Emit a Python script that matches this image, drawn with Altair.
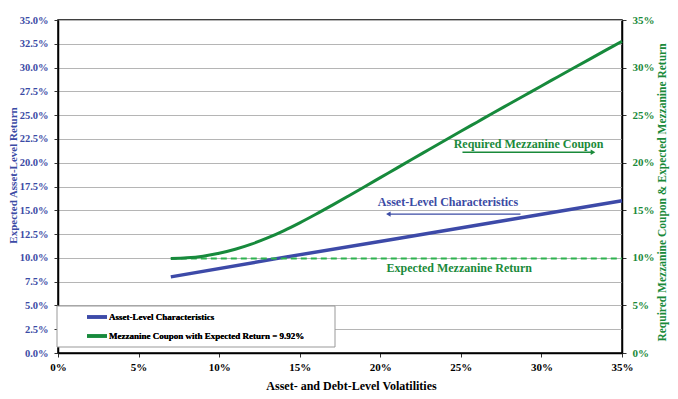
import altair as alt
import pandas as pd

# ---- data (values in percent) ----
vol_asset = [7, 14, 21, 28, 35]
asset_return = [8.0, 10.05, 12.0, 14.0, 16.0]

vol_mezz = [7, 8, 9, 10, 11, 12, 13, 14, 15, 16, 17, 18, 19, 20, 21,
            22, 23, 24, 25, 26, 27, 28, 29, 30, 31, 32, 33, 34, 35]
mezz_coupon = [9.92, 10.00, 10.18, 10.48, 10.90, 11.44, 12.09, 12.84, 13.68, 14.58,
               15.52, 16.48, 17.45, 18.43, 19.41, 20.39, 21.36, 22.33, 23.30, 24.26,
               25.22, 26.17, 27.12, 28.07, 29.01, 29.95, 30.89, 31.83, 32.77]

expected_return = 9.92
exp_range = [7, 35]

series_names = ["Asset-Level Characteristics",
                "Mezzanine Coupon with Expected Return = 9.92%"]

left_ticks = [i * 2.5 for i in range(15)]
right_ticks = [i * 5 for i in range(8)]
x_ticks = [i * 5 for i in range(8)]

# annotations (data coordinates, percent)
ann_text = ["Required Mezzanine Coupon", "Asset-Level Characteristics", "Expected Mezzanine Return"]
ann_x = [29.2, 24.2, 24.9]
ann_y = [22.0, 15.9, 8.97]
ann_color = ["#1a8a3a", "#3b4ba5", "#1a8a3a"]
arrow_x1 = [25.1, 28.7]
arrow_x2 = [33.2, 20.5]
arrow_y = [21.1, 14.6]
arrow_color = ["#1a8a3a", "#3b4ba5"]
arrow_shape = ["triangle-right", "triangle-left"]

BLUE = "#3d4aa8"
GREEN = "#178a3c"
DASH_GREEN = "#2db34e"
LBLUE = "#3b4ba5"
LGREEN = "#1a8a3a"
FONT = "Liberation Serif"

df_asset = pd.DataFrame({"vol": [v / 100 for v in vol_asset],
                         "ret": [r / 100 for r in asset_return],
                         "series": series_names[0]})
df_mezz = pd.DataFrame({"vol": [v / 100 for v in vol_mezz],
                        "ret": [r / 100 for r in mezz_coupon],
                        "series": series_names[1]})
df_exp = pd.DataFrame({"vol": [v / 100 for v in exp_range],
                       "ret": [expected_return / 100] * 2})
df_ann = pd.DataFrame({"x": [v / 100 for v in ann_x], "y": [v / 100 for v in ann_y],
                       "t": ann_text, "c": ann_color})
df_arrow = pd.DataFrame({"x1": [v / 100 for v in arrow_x1], "x2": [v / 100 for v in arrow_x2],
                         "y": [v / 100 for v in arrow_y], "c": arrow_color, "s": arrow_shape})

xscale = alt.Scale(domain=[0, 0.35], nice=False)
yscale = alt.Scale(domain=[0, 0.35], nice=False)

x_axis = alt.Axis(values=[v / 100 for v in x_ticks], format=".0%",
                  title="Asset- and Debt-Level Volatilities",
                  titlePadding=8, labelPadding=4, tickSize=4, grid=False,
                  labelFontSize=11, titleX=293)

left_axis = alt.Axis(values=[v / 100 for v in left_ticks], format=".1%",
                     title="Expected Asset-Level Return", titleColor=LBLUE,
                     labelColor=LBLUE, orient="left", grid=True, titleFontSize=11,
                     titleX=-44.5, titleY=155, titleBaseline="middle",
                     tickSize=4, labelPadding=6, labelFontSize=10.5)

right_axis = alt.Axis(values=[v / 100 for v in right_ticks], format=".0%",
                      title="Required Mezzanine Coupon & Expected Mezzanine Return",
                      titleColor=LGREEN, labelColor=LGREEN, orient="right",
                      grid=False, tickSize=4, titleAngle=270, titlePadding=13,
                      titleY=172,
                      labelPadding=6, labelFontSize=11, titleFontSize=11.5)

color_enc = alt.Color("series:N",
                      scale=alt.Scale(domain=series_names, range=[BLUE, GREEN]),
                      legend=alt.Legend(title=None, orient="none", legendX=27, legendY=285,
                                        symbolType="stroke", symbolSize=400,
                                        symbolStrokeWidth=3.5, labelFont=FONT,
                                        labelFontSize=9, labelFontWeight="bold",
                                        labelColor="black", labelOffset=0,
                                        rowPadding=0, labelLimit=400, padding=0))

X = alt.X("vol:Q", scale=xscale, axis=x_axis)
Y_LEFT = alt.Y("ret:Q", scale=yscale, axis=left_axis)

# legend box (decoration)
legend_box = alt.Chart(pd.DataFrame({"a": [0]})).mark_rect(
    fill="white", stroke="#999999", strokeWidth=1
).encode(x=alt.value(-1), x2=alt.value(277), y=alt.value(286), y2=alt.value(327))

left_line = alt.Chart(df_asset).mark_line(strokeWidth=3.5).encode(
    x=X, y=Y_LEFT, color=color_enc,
)

dashed = alt.Chart(df_exp).mark_line(strokeWidth=2, strokeDash=[6, 4], color=DASH_GREEN).encode(
    x=X, y=Y_LEFT,
)

texts = alt.Chart(df_ann).mark_text(font=FONT, fontSize=12, fontWeight="bold").encode(
    x=alt.X("x:Q", scale=xscale, axis=x_axis),
    y=alt.Y("y:Q", scale=yscale, axis=left_axis),
    text="t:N",
    color=alt.Color("c:N", scale=None),
)

arrow_rules = alt.Chart(df_arrow).mark_rule(strokeWidth=1.3).encode(
    x=alt.X("x1:Q", scale=xscale, axis=x_axis),
    x2="x2:Q",
    y=alt.Y("y:Q", scale=yscale, axis=left_axis),
    color=alt.Color("c:N", scale=None),
)

arrow_heads = alt.Chart(df_arrow).mark_point(filled=True, size=28, opacity=1).encode(
    x=alt.X("x2:Q", scale=xscale, axis=x_axis),
    y=alt.Y("y:Q", scale=yscale, axis=left_axis),
    shape=alt.Shape("s:N", scale=None),
    color=alt.Color("c:N", scale=None),
)

right_line = alt.Chart(df_mezz).mark_line(strokeWidth=3, interpolate="monotone").encode(
    x=X,
    y=alt.Y("ret:Q", scale=yscale, axis=right_axis),
    color=color_enc,
)

left_layer = alt.layer(left_line, legend_box, dashed, texts, arrow_rules, arrow_heads)

chart = alt.layer(left_layer, right_line).resolve_scale(
    y="independent", color="independent"
).properties(
    width=564, height=333,
    autosize=alt.AutoSizeParams(type="none"),
    padding={"left": 50, "top": 12, "right": 48, "bottom": 38},
).configure_view(
    stroke="black", strokeWidth=1.5
).configure_axis(
    labelFont=FONT, titleFont=FONT, labelFontSize=10, titleFontSize=12,
    labelFontWeight="bold", titleFontWeight="bold", labelFlush=False,
    domainColor="black", domainWidth=1.5, tickColor="#333333",
    gridColor="#b5b5b5", gridWidth=1, labelColor="black", titleColor="black",
)

chart.save("out.html", embed_options={"renderer": "svg", "actions": False})
